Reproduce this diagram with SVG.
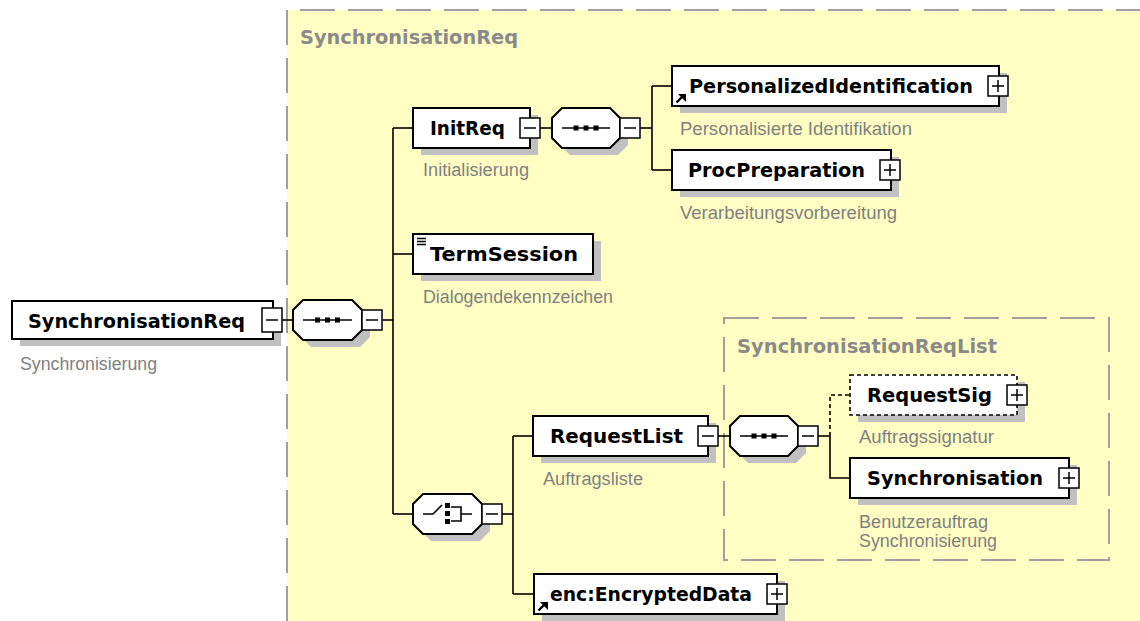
<svg xmlns="http://www.w3.org/2000/svg" width="1140" height="621" viewBox="0 0 1140 621">
<defs>
<style>
.bg{fill:#FFFFC4}
.frame{fill:none;stroke:#A0A0A0;stroke-width:2;stroke-dasharray:35 13}
.title{font-family:"DejaVu Sans","Liberation Sans",sans-serif;font-weight:bold;font-size:19px;fill:#8A8A8A}
.sh{fill:#C0C0C0}
.box{fill:#FFFFFF;stroke:#000000;stroke-width:2}
.dbox{fill:#FFFFFF;stroke:#000000;stroke-width:1.6;stroke-dasharray:4 3}
.lbl{font-family:"DejaVu Sans","Liberation Sans",sans-serif;font-weight:bold;font-size:19px;fill:#000000}
.desc{font-family:"Liberation Sans",Arial,sans-serif;font-size:18px;fill:#808080}
.btn{fill:#FFFFFF;stroke:#000000;stroke-width:1.5}
.sign{stroke:#000000;stroke-width:1.5;fill:none}
.arr{stroke:#000000;stroke-width:2.4;fill:none}
.ln{stroke:#000000;stroke-width:1.6;fill:none}
.dln{stroke:#000000;stroke-width:1.6;fill:none;stroke-dasharray:4 3}
.dot{fill:#000000}
</style>
</defs>
<rect x="0" y="0" width="1140" height="621" fill="#FFFFFF"/>
<g id="group-SynchronisationReq">
<rect class="bg" x="287" y="10" width="853" height="611"/>
<path class="frame" d="M287,621 V10 H1140"/>
<text class="title" x="300" y="44" textLength="218" lengthAdjust="spacingAndGlyphs">SynchronisationReq</text>
</g>
<g id="group-SynchronisationReqList">
<rect class="frame" x="724" y="318" width="385" height="242"/>
<text class="title" x="737" y="353" textLength="260" lengthAdjust="spacingAndGlyphs">SynchronisationReqList</text>
</g>
<g id="connectors">
<path class="ln" d="M282,320 H293"/>
<path class="ln" d="M382,320 H393"/>
<path class="ln" d="M393,128 V514"/>
<path class="ln" d="M393,128 H413"/>
<path class="ln" d="M393,254 H413"/>
<path class="ln" d="M393,514 H413"/>
<path class="ln" d="M540,128 H552"/>
<path class="ln" d="M640,128 H652"/>
<path class="ln" d="M652,86 V170"/>
<path class="ln" d="M652,86 H672"/>
<path class="ln" d="M652,170 H672"/>
<path class="ln" d="M502,514 H513"/>
<path class="ln" d="M513,436 V594"/>
<path class="ln" d="M513,436 H533"/>
<path class="ln" d="M513,594 H534"/>
<path class="ln" d="M718,436 H730"/>
<path class="ln" d="M818,436 H830"/>
<path class="ln" d="M830,436 V478 H850"/>
<path class="dln" d="M830,436 V395 H850"/>
</g>
<g id="node-SynchronisationReq">
<rect class="sh" x="20" y="308" width="261" height="38"/>
<rect class="box" x="12" y="301" width="261" height="38"/>
<text class="lbl" x="28" y="328" textLength="217" lengthAdjust="spacingAndGlyphs">SynchronisationReq</text>
<rect class="btn" x="262" y="308" width="20" height="24"/>
<path class="sign" d="M266,320 H278"/>
<text class="desc" x="20" y="370" textLength="137" lengthAdjust="spacingAndGlyphs">Synchronisierung</text>
</g>
<g id="seq-main">
<polygon class="sh" points="311,307 360,307 370,317 370,337 360,347 311,347 301,337 301,317"/>
<polygon class="box" points="303,300 352,300 362,310 362,330 352,340 303,340 293,330 293,310"/>
<path class="ln" d="M303,320 H352"/>
<rect class="dot" x="315" y="317.5" width="5" height="5"/>
<rect class="dot" x="325" y="317.5" width="5" height="5"/>
<rect class="dot" x="335" y="317.5" width="5" height="5"/>
<rect class="btn" x="362" y="310" width="20" height="20"/>
<path class="sign" d="M366,320 H378"/>
</g>
<g id="node-InitReq">
<rect class="sh" x="421" y="115" width="117" height="40"/>
<rect class="box" x="413" y="108" width="117" height="40"/>
<text class="lbl" x="430" y="135" textLength="75" lengthAdjust="spacingAndGlyphs">InitReq</text>
<rect class="btn" x="520" y="118" width="20" height="20"/>
<path class="sign" d="M524,128 H536"/>
<text class="desc" x="423" y="176" textLength="106" lengthAdjust="spacingAndGlyphs">Initialisierung</text>
</g>
<g id="seq-InitReq">
<polygon class="sh" points="570,115 618,115 628,125 628,145 618,155 570,155 560,145 560,125"/>
<polygon class="box" points="562,108 610,108 620,118 620,138 610,148 562,148 552,138 552,118"/>
<path class="ln" d="M562,128 H610"/>
<rect class="dot" x="573.5" y="125.5" width="5" height="5"/>
<rect class="dot" x="583.5" y="125.5" width="5" height="5"/>
<rect class="dot" x="593.5" y="125.5" width="5" height="5"/>
<rect class="btn" x="620" y="118" width="20" height="20"/>
<path class="sign" d="M624,128 H636"/>
</g>
<g id="node-PersonalizedIdentification">
<rect class="sh" x="680" y="73" width="327" height="40"/>
<rect class="box" x="672" y="66" width="327" height="40"/>
<text class="lbl" x="689" y="93" textLength="284" lengthAdjust="spacingAndGlyphs">PersonalizedIdentification</text>
<path class="arr" d="M676.5,102.5 L682,97"/>
<polygon class="dot" points="678,94 686,94 686,102"/>
<rect class="btn" x="988" y="76" width="20" height="20"/>
<path class="sign" d="M992,86 H1004 M998,80 V92"/>
<text class="desc" x="680" y="135" textLength="232" lengthAdjust="spacingAndGlyphs">Personalisierte Identifikation</text>
</g>
<g id="node-ProcPreparation">
<rect class="sh" x="680" y="157" width="219" height="40"/>
<rect class="box" x="672" y="150" width="219" height="40"/>
<text class="lbl" x="688" y="177" textLength="177" lengthAdjust="spacingAndGlyphs">ProcPreparation</text>
<rect class="btn" x="880" y="160" width="20" height="20"/>
<path class="sign" d="M884,170 H896 M890,164 V176"/>
<text class="desc" x="680" y="219" textLength="217" lengthAdjust="spacingAndGlyphs">Verarbeitungsvorbereitung</text>
</g>
<g id="node-TermSession">
<rect class="sh" x="421" y="241" width="180" height="40"/>
<rect class="box" x="413" y="234" width="180" height="40"/>
<path class="sign" d="M417,238.5 H426 M417,241.5 H426 M417,244.5 H426"/>
<text class="lbl" x="430" y="261" textLength="148" lengthAdjust="spacingAndGlyphs">TermSession</text>
<text class="desc" x="423" y="303" textLength="190" lengthAdjust="spacingAndGlyphs">Dialogendekennzeichen</text>
</g>
<g id="choice">
<polygon class="sh" points="431,501 480,501 490,511 490,531 480,541 431,541 421,531 421,511"/>
<polygon class="box" points="423,494 472,494 482,504 482,524 472,534 423,534 413,524 413,504"/>
<path class="ln" d="M423,514 H433 L442,505"/>
<rect class="dot" x="445" y="503" width="5" height="5"/>
<rect class="dot" x="445" y="511" width="5" height="5"/>
<rect class="dot" x="445" y="519" width="5" height="5"/>
<path class="ln" d="M451,507 H461 V521 H451 M461,514 H472"/>
<rect class="btn" x="482" y="504" width="20" height="20"/>
<path class="sign" d="M486,514 H498"/>
</g>
<g id="node-RequestList">
<rect class="sh" x="541" y="423" width="175" height="40"/>
<rect class="box" x="533" y="416" width="175" height="40"/>
<text class="lbl" x="550" y="443" textLength="133" lengthAdjust="spacingAndGlyphs">RequestList</text>
<rect class="btn" x="698" y="426" width="20" height="20"/>
<path class="sign" d="M702,436 H714"/>
<text class="desc" x="543" y="485" textLength="100" lengthAdjust="spacingAndGlyphs">Auftragsliste</text>
</g>
<g id="seq-SynchronisationReqList">
<polygon class="sh" points="748,423 796,423 806,433 806,453 796,463 748,463 738,453 738,433"/>
<polygon class="box" points="740,416 788,416 798,426 798,446 788,456 740,456 730,446 730,426"/>
<path class="ln" d="M740,436 H788"/>
<rect class="dot" x="751.5" y="433.5" width="5" height="5"/>
<rect class="dot" x="761.5" y="433.5" width="5" height="5"/>
<rect class="dot" x="771.5" y="433.5" width="5" height="5"/>
<rect class="btn" x="798" y="426" width="20" height="20"/>
<path class="sign" d="M802,436 H814"/>
</g>
<g id="node-RequestSig">
<rect class="sh" x="858" y="382" width="167" height="40"/>
<rect class="dbox" x="850" y="375" width="167" height="40"/>
<text class="lbl" x="867" y="402" textLength="125" lengthAdjust="spacingAndGlyphs">RequestSig</text>
<rect class="btn" x="1007" y="385" width="20" height="20"/>
<path class="sign" d="M1011,395 H1023 M1017,389 V401"/>
<text class="desc" x="859" y="443" textLength="135" lengthAdjust="spacingAndGlyphs">Auftragssignatur</text>
</g>
<g id="node-Synchronisation">
<rect class="sh" x="858" y="465" width="219" height="40"/>
<rect class="box" x="850" y="458" width="219" height="40"/>
<text class="lbl" x="867" y="485" textLength="176" lengthAdjust="spacingAndGlyphs">Synchronisation</text>
<rect class="btn" x="1059" y="468" width="20" height="20"/>
<path class="sign" d="M1063,478 H1075 M1069,472 V484"/>
<text class="desc" x="859" y="528" textLength="129" lengthAdjust="spacingAndGlyphs">Benutzerauftrag</text>
<text class="desc" x="859" y="547" textLength="138" lengthAdjust="spacingAndGlyphs">Synchronisierung</text>
</g>
<g id="node-EncryptedData">
<rect class="sh" x="542" y="581" width="243" height="40"/>
<rect class="box" x="534" y="574" width="243" height="40"/>
<text class="lbl" x="550" y="601" textLength="202" lengthAdjust="spacingAndGlyphs">enc:EncryptedData</text>
<path class="arr" d="M538.5,610.5 L544,605"/>
<polygon class="dot" points="540,602 548,602 548,610"/>
<rect class="btn" x="767" y="584" width="20" height="20"/>
<path class="sign" d="M771,594 H783 M777,588 V600"/>
</g>
</svg>
